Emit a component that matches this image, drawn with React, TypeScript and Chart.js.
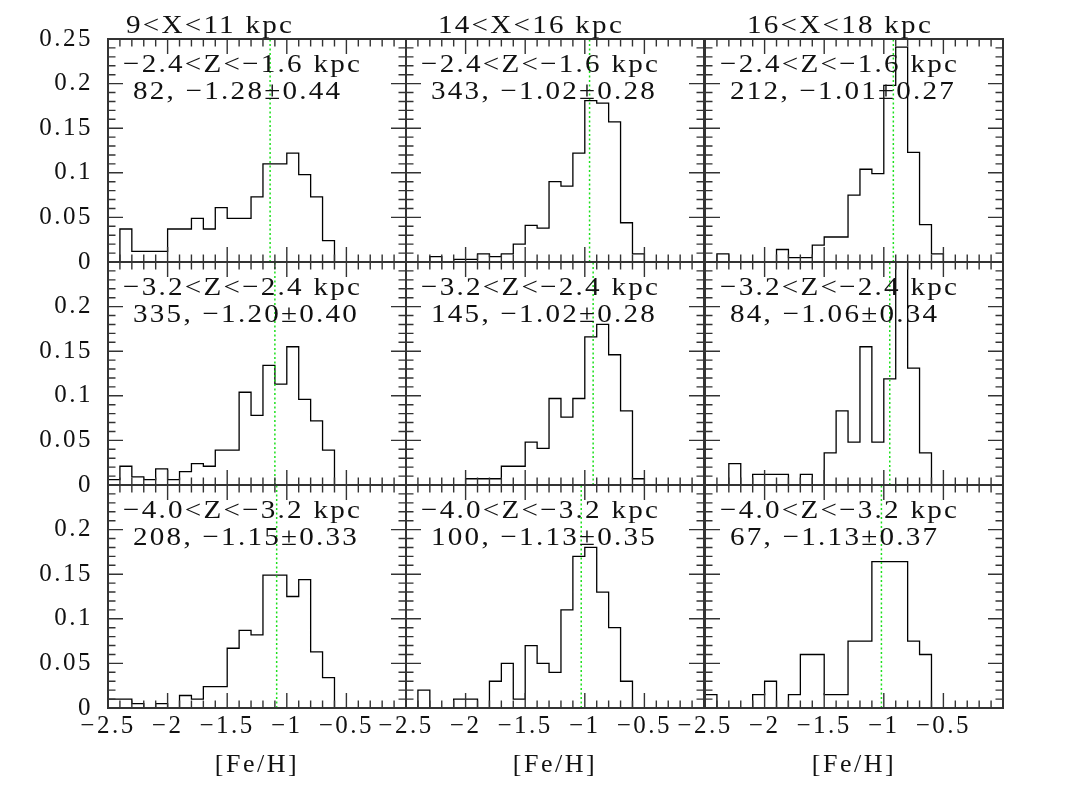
import React, { useEffect, useRef } from 'react';
import { Chart, registerables } from 'chart.js';

Chart.register(...registerables);

// ---------- data ----------
const BIN_EDGES = [
  -2.5, -2.4, -2.3, -2.2, -2.1, -2.0, -1.9, -1.8, -1.7, -1.6, -1.5,
  -1.4, -1.3, -1.2, -1.1, -1.0, -0.9, -0.8, -0.7, -0.6, -0.5, -0.4,
];

const COLUMN_TITLES = ['9<X<11 kpc', '14<X<16 kpc', '16<X<18 kpc'];
const ROW_TITLES = ['\u22122.4<Z<\u22121.6 kpc', '\u22123.2<Z<\u22122.4 kpc', '\u22124.0<Z<\u22123.2 kpc'];

const STATS_ROW1 = ['82, \u22121.28\u00b10.44', '343, \u22121.02\u00b10.28', '212, \u22121.01\u00b10.27'];
const STATS_ROW2 = ['335, \u22121.20\u00b10.40', '145, \u22121.02\u00b10.28', '84, \u22121.06\u00b10.34'];
const STATS_ROW3 = ['208, \u22121.15\u00b10.33', '100, \u22121.13\u00b10.35', '67, \u22121.13\u00b10.37'];

// dotted green reference line ([Fe/H] value) per panel
const MARK_ROW1 = [-1.14, -0.96, -0.92];
const MARK_ROW2 = [-1.10, -0.93, -0.95];
const MARK_ROW3 = [-1.085, -1.03, -1.02];

// normalized histogram values, one per bin starting at BIN_EDGES[i]
const H_R1C1 = [0, 0.037, 0.012, 0.012, 0.012, 0.037, 0.037, 0.049, 0.037, 0.061, 0.049, 0.049, 0.073, 0.110, 0.110, 0.122, 0.098, 0.073, 0.024, 0, 0];
const H_R1C2 = [0, 0, 0.006, 0, 0.003, 0.003, 0.009, 0.006, 0.009, 0.020, 0.041, 0.038, 0.090, 0.085, 0.122, 0.181, 0.178, 0.157, 0.044, 0.009, 0];
const H_R1C3 = [0, 0.009, 0, 0, 0, 0, 0.014, 0.005, 0.005, 0.019, 0.028, 0.028, 0.075, 0.104, 0.099, 0.198, 0.241, 0.123, 0.042, 0.009, 0];
const H_R2C1 = [0.006, 0.021, 0.009, 0.006, 0.018, 0.006, 0.015, 0.024, 0.021, 0.039, 0.039, 0.104, 0.078, 0.134, 0.113, 0.155, 0.096, 0.072, 0.039, 0, 0];
const H_R2C2 = [0, 0, 0, 0, 0, 0.007, 0.007, 0.007, 0.021, 0.021, 0.048, 0.041, 0.097, 0.076, 0.097, 0.166, 0.180, 0.146, 0.083, 0.007, 0];
const H_R2C3 = [0, 0, 0.024, 0, 0.012, 0.012, 0.012, 0, 0.012, 0, 0.036, 0.083, 0.048, 0.155, 0.048, 0.119, 0.274, 0.131, 0.036, 0, 0];
const H_R3C1 = [0.010, 0.010, 0.005, 0, 0.005, 0, 0.014, 0.010, 0.024, 0.024, 0.067, 0.087, 0.082, 0.149, 0.149, 0.125, 0.144, 0.063, 0.034, 0, 0];
const H_R3C2 = [0, 0.02, 0, 0, 0.01, 0.01, 0, 0.03, 0.05, 0.01, 0.07, 0.05, 0.04, 0.11, 0.17, 0.18, 0.13, 0.09, 0.03, 0, 0];
const H_R3C3 = [0.015, 0, 0, 0, 0.015, 0.030, 0, 0.015, 0.060, 0.060, 0.015, 0.015, 0.075, 0.075, 0.164, 0.164, 0.164, 0.075, 0.060, 0, 0];

const HISTS = [
  [H_R1C1, H_R1C2, H_R1C3],
  [H_R2C1, H_R2C2, H_R2C3],
  [H_R3C1, H_R3C2, H_R3C3],
];
const STATS = [STATS_ROW1, STATS_ROW2, STATS_ROW3];
const MARKS = [MARK_ROW1, MARK_ROW2, MARK_ROW3];

const X_MIN = -2.5;
const X_MAX = 0;
const Y_MIN = 0;
const Y_MAX = 0.25;

// ---------- layout ----------
const PANEL_LEFT = [108, 406, 705];
const PANEL_TOP = [39, 262, 485];
const PANEL_W = 298;
const PANEL_H = 223;
const PAD_L = 110;
const PAD_T = 40;
const PAD_R = 40;
const PAD_B = 90;
const TITLE_OFFSET = [18, 32, 42];

const FONT = 'Liberation Serif';
const TICK_SIZE = 25;
const TEXT_SIZE = 26;
const TEXT_STRETCH = 1.12;
const INK = '#111';
const FRAME = '#333';

function fmtX(v: number): string {
  if (Math.abs(v) < 1e-9) return '';
  const s = String(Math.abs(Number(v.toFixed(2))));
  return v < 0 ? '\u2212' + s : s;
}
function fmtY(v: number): string {
  return String(Number(v.toFixed(2)));
}

function stretchedText(ctx: CanvasRenderingContext2D, text: string, x: number, y: number) {
  ctx.save();
  ctx.translate(x, y);
  ctx.scale(TEXT_STRETCH, 1);
  ctx.fillText(text, 0, 0);
  ctx.restore();
}

function Panel({ row, col }: { row: number; col: number }) {
  const ref = useRef<HTMLCanvasElement | null>(null);

  useEffect(() => {
    const canvas = ref.current;
    if (!canvas) return;
    const values = HISTS[row][col];
    const histData = [{ x: BIN_EDGES[0], y: 0 }];
    values.forEach((v, i) => histData.push({ x: BIN_EDGES[i], y: v }));
    histData.push({ x: BIN_EDGES[values.length], y: 0 });
    const mark = MARKS[row][col];

    const decor = {
      id: 'decor',
      beforeDraw(chart: any) {
        chart.ctx.letterSpacing = '2.5px';
      },
      afterDraw(chart: any) {
        const ctx = chart.ctx as CanvasRenderingContext2D;
        const a = chart.chartArea;
        const xs = chart.scales.x;
        const ys = chart.scales.y;
        ctx.save();
        // inward ticks
        ctx.strokeStyle = FRAME;
        ctx.lineWidth = 1.4;
        ctx.beginPath();
        for (let i = 1; i < 25; i++) {
          const v = X_MIN + i * 0.1;
          const px = xs.getPixelForValue(v);
          const len = i % 5 === 0 ? 15 : 7.5;
          ctx.moveTo(px, a.bottom);
          ctx.lineTo(px, a.bottom - len);
          ctx.moveTo(px, a.top);
          ctx.lineTo(px, a.top + len);
        }
        for (let i = 1; i < 25; i++) {
          const v = Y_MIN + i * 0.01;
          const py = ys.getPixelForValue(v);
          const len = i % 5 === 0 ? 15 : 7.5;
          ctx.moveTo(a.left, py);
          ctx.lineTo(a.left + len, py);
          ctx.moveTo(a.right, py);
          ctx.lineTo(a.right - len, py);
        }
        ctx.stroke();
        // frame
        ctx.lineWidth = 2;
        ctx.strokeRect(a.left, a.top, a.right - a.left, a.bottom - a.top);
        // texts
        ctx.fillStyle = INK;
        ctx.font = `${TEXT_SIZE}px "${FONT}"`;
        ctx.letterSpacing = '2px';
        ctx.textAlign = 'left';
        ctx.textBaseline = 'alphabetic';
        stretchedText(ctx, ROW_TITLES[row], a.left + 15, a.top + 33);
        stretchedText(ctx, STATS[row][col], a.left + 25, a.top + 60);
        if (row === 0) {
          stretchedText(ctx, COLUMN_TITLES[col], a.left + TITLE_OFFSET[col], a.top - 6);
        }
        ctx.restore();
      },
    };

    const chart = new Chart(canvas, {
      type: 'line',
      data: {
        datasets: [
          {
            data: [
              { x: mark, y: Y_MIN },
              { x: mark, y: Y_MAX },
            ],
            borderColor: '#1ee01e',
            borderWidth: 1.5,
            borderDash: [2, 2.5],
            pointRadius: 0,
            fill: false,
          },
          {
            data: histData,
            borderColor: '#000',
            borderWidth: 1.3,
            stepped: 'before',
            pointRadius: 0,
            fill: false,
          },
        ],
      },
      options: {
        animation: false,
        responsive: false,
        maintainAspectRatio: false,
        layout: { padding: { left: 0, top: PAD_T, right: PAD_R, bottom: 0 } },
        plugins: { legend: { display: false }, tooltip: { enabled: false } },
        scales: {
          x: {
            type: 'linear',
            min: X_MIN,
            max: X_MAX,
            grid: { display: false, drawTicks: false },
            border: { display: false },
            ticks: {
              display: row === 2,
              stepSize: 0.5,
              autoSkip: false,
              maxRotation: 0,
              padding: 3,
              color: INK,
              font: { family: FONT, size: TICK_SIZE },
              callback: (v: any) => fmtX(Number(v)),
            },
            title: {
              display: row === 2,
              text: '[Fe/H]',
              color: INK,
              font: { family: FONT, size: TEXT_SIZE },
              padding: { top: 20, bottom: 17 },
            },
            afterFit: (s: any) => {
              s.height = PAD_B;
            },
          },
          y: {
            type: 'linear',
            min: Y_MIN,
            max: Y_MAX,
            grid: { display: false, drawTicks: false },
            border: { display: false },
            ticks: {
              display: col === 0,
              stepSize: 0.05,
              autoSkip: false,
              padding: 15,
              color: INK,
              font: { family: FONT, size: TICK_SIZE },
              callback: (v: any) => {
                const n = Number(v);
                if (row > 0 && n > 0.24) return '';
                return fmtY(n);
              },
            },
            afterFit: (s: any) => {
              s.width = PAD_L;
            },
          },
        },
      } as any,
      plugins: [decor],
    });
    return () => chart.destroy();
  }, [row, col]);

  const w = PANEL_W + PAD_L + PAD_R;
  const h = PANEL_H + PAD_T + PAD_B;
  return (
    <canvas
      ref={ref}
      width={w}
      height={h}
      style={{
        position: 'absolute',
        left: PANEL_LEFT[col] - PAD_L,
        top: PANEL_TOP[row] - PAD_T,
        width: w,
        height: h,
      }}
    />
  );
}

export default function App() {
  const cells: JSX.Element[] = [];
  for (let r = 0; r < 3; r++) {
    for (let c = 0; c < 3; c++) {
      cells.push(<Panel key={`${r}-${c}`} row={r} col={c} />);
    }
  }
  return (
    <div
      style={{
        position: 'absolute',
        left: 0,
        top: 0,
        width: 1067,
        height: 797,
        background: '#fff',
        overflow: 'hidden',
      }}
    >
      {cells}
    </div>
  );
}
